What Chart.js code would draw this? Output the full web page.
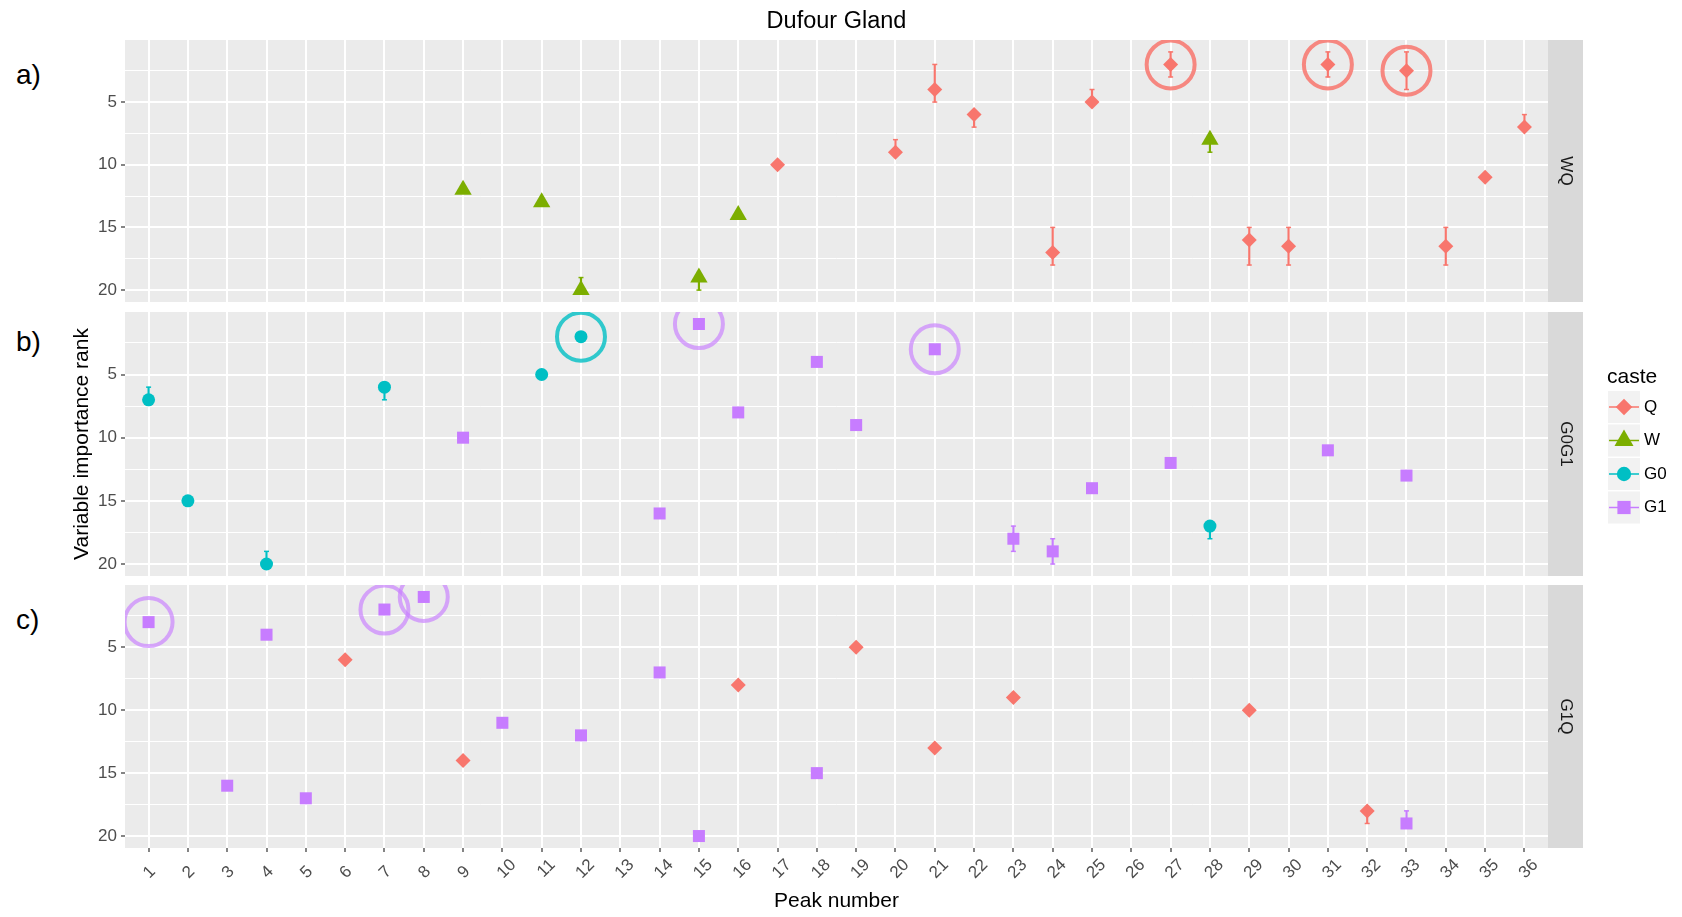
<!DOCTYPE html>
<html>
<head>
<meta charset="utf-8">
<title>Dufour Gland</title>
<script src="https://cdn.jsdelivr.net/npm/chart.js@4.4.1/dist/chart.umd.min.js"></script>
<style>
    body { margin: 0; background: #ffffff; width: 1682px; height: 917px; overflow: hidden; position: relative;
           font-family: 'Liberation Sans', Arial, sans-serif; }
    canvas { position: absolute; left: 0; }
    .tag { position: absolute; left: 16px; font-size: 28px; line-height: 28px; color: #000000; }
</style>
</head>
<body>
<div class="tag" style="top:61px">a)</div>
<div class="tag" style="top:328px">b)</div>
<div class="tag" style="top:606px">c)</div>
<canvas id="panelA" width="1682" height="302" style="top:0px"></canvas>
<canvas id="panelB" width="1682" height="264" style="top:312px"></canvas>
<canvas id="panelC" width="1682" height="332" style="top:585px"></canvas>
<script>
'use strict';

var peaks = [];
for (var p = 1; p <= 36; p++) {
    peaks.push(p);
}
var rankTicks = [5, 10, 15, 20];
var rankMinorTicks = [2.5, 7.5, 12.5, 17.5];

var castes = ['Q', 'W', 'G0', 'G1'];
var casteColors = ['#F8766D', '#7CAE00', '#00BFC4', '#C77CFF'];
var circleColors = ['rgba(248,118,109,0.85)', 'rgba(124,174,0,0.8)', 'rgba(0,191,196,0.8)', 'rgba(199,124,255,0.65)'];
var casteShapes = ['rectRot', 'triangle', 'circle', 'rect'];
var casteSizes = [7.5, 10, 6.5, 8.5];

// a) WQ
var wqPeak = [9, 11, 12, 15, 16, 17, 20, 21, 22, 24, 25, 27, 28, 29, 30, 31, 33, 34, 35, 36];
var wqCaste = ['W', 'W', 'W', 'W', 'W', 'Q', 'Q', 'Q', 'Q', 'Q', 'Q', 'Q', 'W', 'Q', 'Q', 'Q', 'Q', 'Q', 'Q', 'Q'];
var wqRank = [12, 13, 20, 19, 14, 10, 9, 4, 6, 17, 5, 2, 8, 16, 16.5, 2, 2.5, 16.5, 11, 7];
var wqLow = [12, 13, 19, 19, 14, 10, 8, 2, 6, 15, 4, 1, 8, 15, 15, 1, 1, 15, 11, 6];
var wqHigh = [12, 13, 20, 20, 14, 10, 9, 5, 7, 18, 5, 3, 9, 18, 18, 3, 4, 18, 11, 7];
var wqCircled = [27, 31, 33];

// b) G0G1
var g0g1Peak = [1, 2, 4, 7, 9, 11, 12, 14, 15, 16, 18, 19, 21, 23, 24, 25, 27, 28, 31, 33];
var g0g1Caste = ['G0', 'G0', 'G0', 'G0', 'G1', 'G0', 'G0', 'G1', 'G1', 'G1', 'G1', 'G1', 'G1', 'G1', 'G1', 'G1', 'G1', 'G0', 'G1', 'G1'];
var g0g1Rank = [7, 15, 20, 6, 10, 5, 2, 16, 1, 8, 4, 9, 3, 18, 19, 14, 12, 17, 11, 13];
var g0g1Low = [6, 15, 19, 6, 10, 5, 2, 16, 1, 8, 4, 9, 3, 17, 18, 14, 12, 17, 11, 13];
var g0g1High = [7, 15, 20, 7, 10, 5, 2, 16, 1, 8, 4, 9, 3, 19, 20, 14, 12, 18, 11, 13];
var g0g1Circled = [12, 15, 21];

// c) G1Q
var g1qPeak = [1, 3, 4, 5, 6, 7, 8, 9, 10, 12, 14, 15, 16, 18, 19, 21, 23, 29, 32, 33];
var g1qCaste = ['G1', 'G1', 'G1', 'G1', 'Q', 'G1', 'G1', 'Q', 'G1', 'G1', 'G1', 'G1', 'Q', 'G1', 'Q', 'Q', 'Q', 'Q', 'Q', 'G1'];
var g1qRank = [3, 16, 4, 17, 6, 2, 1, 14, 11, 12, 7, 20, 8, 15, 5, 13, 9, 10, 18, 19];
var g1qLow = [3, 16, 4, 17, 6, 2, 1, 14, 11, 12, 7, 20, 8, 15, 5, 13, 9, 10, 18, 18];
var g1qHigh = [3, 16, 4, 17, 6, 2, 1, 14, 11, 12, 7, 20, 8, 15, 5, 13, 9, 10, 19, 19];
var g1qCircled = [1, 7, 8];

var fontFamily = "'Liberation Sans', Arial, sans-serif";
Chart.defaults.font.family = fontFamily;
Chart.defaults.color = '#4D4D4D';

function buildDatasets(peak, caste, rank, low, high, circled) {
    var sets = [];
    var i;

    var circles = [];
    var circleCols = [];
    for (i = 0; i < peak.length; i++) {
        if (circled.indexOf(peak[i]) >= 0) {
            circles.push({x: peak[i], y: rank[i]});
            circleCols.push(circleColors[castes.indexOf(caste[i])]);
        }
    }
    sets.push({
        type: 'scatter',
        data: circles,
        pointStyle: 'circle',
        pointRadius: 24,
        pointHoverRadius: 24,
        pointBorderWidth: 4,
        pointBorderColor: circleCols,
        pointBackgroundColor: 'rgba(0,0,0,0)'
    });

    for (var k = 0; k < castes.length; k++) {
        var pts = [];
        for (i = 0; i < peak.length; i++) {
            if (caste[i] === castes[k]) {
                pts.push({x: peak[i], y: rank[i]});
            }
        }
        if (pts.length === 0) {
            continue;
        }
        sets.push({
            type: 'scatter',
            label: castes[k],
            data: pts,
            pointStyle: casteShapes[k],
            pointRadius: casteSizes[k],
            pointHoverRadius: casteSizes[k],
            pointBackgroundColor: casteColors[k],
            pointBorderColor: casteColors[k],
            pointBorderWidth: 0
        });
    }

    var caps = [];
    var capCols = [];
    var bars = [];
    var barCols = [];
    for (i = 0; i < peak.length; i++) {
        if (low[i] !== high[i]) {
            var col = casteColors[castes.indexOf(caste[i])];
            bars.push({x: peak[i], y: [low[i], high[i]]});
            barCols.push(col);
            caps.push({x: peak[i], y: low[i]});
            caps.push({x: peak[i], y: high[i]});
            capCols.push(col, col);
        }
    }
    sets.push({
        type: 'scatter',
        data: caps,
        pointStyle: 'line',
        pointRadius: 2.5,
        pointHoverRadius: 2.5,
        pointBorderWidth: 1.5,
        pointBorderColor: capCols
    });
    sets.push({
        type: 'bar',
        data: bars,
        backgroundColor: barCols,
        borderWidth: 0,
        barThickness: 1.5,
        grouped: false
    });
    return sets;
}

function isMajor(c) {
    return c.tick && rankTicks.indexOf(c.tick.value) >= 0;
}

function rankScale(title) {
    return {
        type: 'linear',
        reverse: true,
        min: 0.05,
        max: 20.95,
        afterBuildTicks: function (s) {
            s.ticks = rankMinorTicks.concat(rankTicks).sort(function (a, b) { return a - b; })
                .map(function (v) { return {value: v}; });
        },
        afterFit: function (s) {
            s.width = 125;
            s.paddingTop = 0;
            s.paddingBottom = 0;
        },
        grid: {
            color: '#FFFFFF',
            lineWidth: function (c) { return isMajor(c) ? 2 : 1; },
            tickColor: function (c) { return isMajor(c) ? '#333333' : 'rgba(0,0,0,0)'; },
            tickLength: 4,
            tickWidth: 1.2
        },
        border: {display: false},
        ticks: {
            color: '#4D4D4D',
            font: {size: 17},
            padding: 4,
            callback: function (v) { return rankTicks.indexOf(v) >= 0 ? String(v) : ''; }
        },
        title: {
            display: !!title,
            text: title || '',
            color: '#000000',
            font: {size: 21},
            padding: {top: 70, bottom: 0}
        }
    };
}

function peakScale(showLabels) {
    return {
        type: 'linear',
        min: 0.4,
        max: 36.6,
        offset: false,
        afterBuildTicks: function (s) {
            s.ticks = peaks.map(function (v) { return {value: v}; });
        },
        afterFit: function (s) {
            s.height = showLabels ? 69 : 0;
            s.paddingLeft = 0;
            s.paddingRight = 0;
        },
        grid: {
            color: '#FFFFFF',
            lineWidth: 2,
            offset: false,
            drawTicks: showLabels,
            tickLength: 4,
            tickColor: '#333333',
            tickWidth: 1.2
        },
        border: {display: false},
        ticks: {
            display: showLabels,
            autoSkip: false,
            minRotation: 45,
            maxRotation: 45,
            labelOffset: 11,
            padding: 3,
            color: '#4D4D4D',
            font: {size: 17},
            callback: function (v) {
                var s = String(v);
                return s.length < 2 ? s + '\u2007' : s;
            }
        },
        title: {
            display: showLabels,
            text: 'Peak number',
            color: '#000000',
            font: {size: 21},
            padding: {top: 0, bottom: 3}
        }
    };
}

function drawLegend(chart) {
    var ctx = chart.ctx;
    var top = 312;
    ctx.save();
    ctx.fillStyle = '#000000';
    ctx.font = '21px ' + fontFamily;
    ctx.textAlign = 'left';
    ctx.textBaseline = 'alphabetic';
    ctx.fillText('caste', 1607, 383 - top);

    var keyTops = [391, 424.5, 458, 491.5];
    for (var k = 0; k < castes.length; k++) {
        var y0 = keyTops[k] - top;
        var cy = y0 + 16;
        ctx.fillStyle = '#F2F2F2';
        ctx.fillRect(1608, y0, 32, 32);
        ctx.strokeStyle = casteColors[k];
        ctx.lineWidth = 1.5;
        ctx.beginPath();
        ctx.moveTo(1609, cy);
        ctx.lineTo(1639, cy);
        ctx.stroke();
        ctx.fillStyle = casteColors[k];
        Chart.helpers.drawPoint(ctx, {
            pointStyle: casteShapes[k],
            radius: casteSizes[k] * 1.1,
            rotation: 0,
            borderWidth: 0
        }, 1624, cy);
        ctx.fillStyle = '#000000';
        ctx.font = '17px ' + fontFamily;
        ctx.textBaseline = 'middle';
        ctx.fillText(castes[k], 1644, cy);
    }
    ctx.restore();
}

var panelDecor = {
    id: 'panelDecor',
    beforeDraw: function (chart, args, opts) {
        var a = chart.chartArea;
        var ctx = chart.ctx;
        ctx.save();
        ctx.fillStyle = '#EBEBEB';
        ctx.fillRect(a.left, a.top, a.right - a.left, a.bottom - a.top);
        ctx.fillStyle = '#D9D9D9';
        ctx.fillRect(a.right, a.top, 35, a.bottom - a.top);
        ctx.translate(a.right + 17.5, (a.top + a.bottom) / 2);
        ctx.rotate(Math.PI / 2);
        ctx.fillStyle = '#1A1A1A';
        ctx.font = '17px ' + fontFamily;
        ctx.textAlign = 'center';
        ctx.textBaseline = 'middle';
        ctx.fillText(opts.strip, 0, 0);
        ctx.restore();
        if (opts.legend) {
            drawLegend(chart);
        }
    }
};

function makePanel(id, sets, strip, opts) {
    return new Chart(document.getElementById(id), {
        type: 'scatter',
        data: {datasets: sets},
        options: {
            responsive: false,
            devicePixelRatio: 1,
            animation: false,
            events: [],
            layout: {autoPadding: false, padding: {left: 0, right: 134, top: 0, bottom: 0}},
            plugins: {
                legend: {display: false},
                tooltip: {enabled: false},
                title: opts.title ? {
                    display: true,
                    text: opts.title,
                    color: '#000000',
                    fullSize: false,
                    font: {size: 23.5, weight: 'normal'},
                    padding: {top: 7, bottom: 4.8}
                } : {display: false},
                panelDecor: {strip: strip, legend: !!opts.legend}
            },
            scales: {
                x: peakScale(!!opts.xLabels),
                y: rankScale(opts.yTitle)
            }
        },
        plugins: [panelDecor]
    });
}

makePanel('panelA', buildDatasets(wqPeak, wqCaste, wqRank, wqLow, wqHigh, wqCircled), 'WQ',
    {title: 'Dufour Gland'});
makePanel('panelB', buildDatasets(g0g1Peak, g0g1Caste, g0g1Rank, g0g1Low, g0g1High, g0g1Circled), 'G0G1',
    {yTitle: 'Variable importance rank', legend: true});
makePanel('panelC', buildDatasets(g1qPeak, g1qCaste, g1qRank, g1qLow, g1qHigh, g1qCircled), 'G1Q',
    {xLabels: true});
</script>
</body>
</html>
